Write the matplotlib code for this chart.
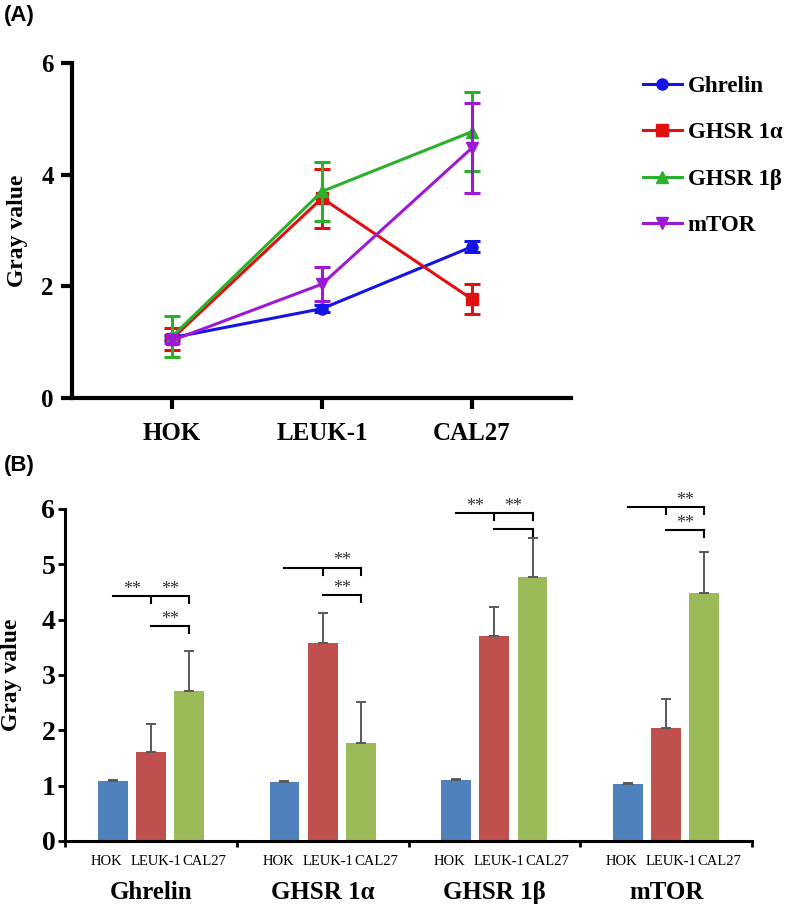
"""Gray value of ghrelin / GHSR / mTOR across HOK, LEUK-1 and CAL27 cells.

(A) line plot of the means, (B) grouped bars with significance brackets.
"""

import matplotlib

matplotlib.use("Agg")
import matplotlib.pyplot as plt  # noqa: E402

# ---- data ----
cells = ["HOK", "LEUK-1", "CAL27"]
genes = ["Ghrelin", "GHSR 1α", "GHSR 1β", "mTOR"]

ghrelin = [1.08, 1.60, 2.71]
ghsr1a = [1.06, 3.58, 1.77]
ghsr1b = [1.10, 3.70, 4.77]
mtor = [1.03, 2.04, 4.48]

# panel A error bars (symmetric)
err_a_ghrelin = [0.04, 0.06, 0.10]
err_a_ghsr1a = [0.20, 0.53, 0.27]
err_a_ghsr1b = [0.37, 0.53, 0.71]
err_a_mtor = [0.05, 0.31, 0.80]

# panel B error bars (upper only)
err_b_ghrelin = [0.02, 0.52, 0.73]
err_b_ghsr1a = [0.02, 0.54, 0.74]
err_b_ghsr1b = [0.02, 0.53, 0.71]
err_b_mtor = [0.02, 0.53, 0.75]

# significance brackets: (gene index, height, first bar, star slots between bars)
brackets = [
    (0, 4.43, 0, [0.5, 1.5]),
    (0, 3.89, 1, [1.5]),
    (1, 4.94, 0, [1.5]),
    (1, 4.45, 1, [1.5]),
    (2, 5.93, 0, [0.5, 1.5]),
    (2, 5.64, 1, []),
    (3, 6.04, 0, [1.5]),
    (3, 5.62, 1, [1.5]),
]

LINE_COLORS = ["#1414e6", "#e01010", "#2bb02b", "#9c1ad6"]
MARKERS = ["o", "s", "^", "v"]
BAR_COLORS = ["#4f81bd", "#c0504d", "#9bbb59"]
SERIF = "Liberation Serif"
SANS = "Liberation Sans"

W, H = 787, 907
fig = plt.figure(figsize=(W / 100, H / 100), dpi=100)
fig.patch.set_facecolor("white")

# ---------------- (A) ----------------
ax = fig.add_axes([72 / W, 1 - 398 / H, (571 - 72) / W, (398 - 63) / H])
means = [ghrelin, ghsr1a, ghsr1b, mtor]
errs_a = [err_a_ghrelin, err_a_ghsr1a, err_a_ghsr1b, err_a_mtor]
xs = list(range(len(cells)))
handles = []
for i, gene in enumerate(genes):
    c = ax.errorbar(xs, means[i], yerr=errs_a[i], color=LINE_COLORS[i], lw=2.2,
                    marker=MARKERS[i], ms=8, capsize=6, capthick=2.2,
                    elinewidth=2.2, label=gene, zorder=3 + i)
    handles.append(c.lines[0])
ax.set_xlim(-0.667, 2.66)
ax.set_ylim(0, 6)
ax.set_yticks([0, 2, 4, 6])
ax.set_xticks(xs)
ax.set_xticklabels(cells)
for s in ("top", "right"):
    ax.spines[s].set_visible(False)
for s in ("left", "bottom"):
    ax.spines[s].set_linewidth(3)
ax.tick_params(axis="both", width=3, length=8, pad=5)
ax.tick_params(axis="x", pad=9)
for lab in ax.get_xticklabels() + ax.get_yticklabels():
    lab.set_fontfamily(SERIF)
    lab.set_fontweight("bold")
    lab.set_fontsize(18)
ax.set_ylabel("Gray value", family=SERIF, weight="bold", fontsize=17)
ax.yaxis.set_label_coords(-0.088, 0.5)

fig.legend(handles, genes, loc="upper left", bbox_to_anchor=(643 / W, 1 - 76 / H),
           frameon=False, borderpad=0, borderaxespad=0, handlelength=1.7,
           handletextpad=0.25, labelspacing=1.1,
           prop={"family": SERIF, "weight": "bold", "size": 16.5})

fig.text(4 / W, 1 - 15 / H, "(A)", family=SANS, weight="bold", fontsize=16,
         va="center", ha="left")
fig.text(4 / W, 1 - 466 / H, "(B)", family=SANS, weight="bold", fontsize=16,
         va="center", ha="left")

# ---------------- (B) ----------------
bx = fig.add_axes([65 / W, 1 - 841 / H, (752 - 65) / W, (841 - 509) / H])
errs_b = [err_b_ghrelin, err_b_ghsr1a, err_b_ghsr1b, err_b_mtor]
step, width = 0.222, 0.174


def bar_x(g, k):
    return g + 0.5 + (k - 1) * step


for g in range(len(genes)):
    for k in range(len(cells)):
        bx.bar(bar_x(g, k), means[g][k], width=width, color=BAR_COLORS[k],
               yerr=[[0], [errs_b[g][k]]], capsize=3.6,
               error_kw={"ecolor": "#595959", "elinewidth": 1.4, "capthick": 1.4},
               zorder=2)

bx.set_xlim(0, 4)
bx.set_ylim(0, 6)
bx.set_yticks(range(7))
bx.set_xticks(range(5))
bx.set_xticklabels([])
label_off = [-0.26, 0.03, 0.31]
bx.set_xticks([g + 0.5 + o for g in range(len(genes)) for o in label_off], minor=True)
bx.set_xticklabels(cells * len(genes), minor=True, family=SERIF, fontsize=10.5)
bx.tick_params(axis="x", which="minor", length=0, pad=10)
bx.tick_params(axis="x", which="major", length=4, width=2)
bx.tick_params(axis="y", length=5, width=2, pad=2)
for lab in bx.get_yticklabels():
    lab.set_fontfamily(SERIF)
    lab.set_fontweight("bold")
    lab.set_fontsize(20)
for s in ("top", "right"):
    bx.spines[s].set_visible(False)
for s in ("left", "bottom"):
    bx.spines[s].set_linewidth(2.2)
bx.set_ylabel("Gray value", family=SERIF, weight="bold", fontsize=17)
bx.yaxis.set_label_coords(-0.062, 0.5)

for g, gene in enumerate(genes):
    bx.text(g + 0.5, -0.155, gene, transform=bx.get_xaxis_transform(),
            ha="center", va="center", family=SERIF, weight="bold", fontsize=18)

tick_depth = 0.13
for g, y, first, stars in brackets:
    x0, x1 = bar_x(g, first), bar_x(g, 2)
    bx.plot([x0, x1], [y, y], color="black", lw=1.5, clip_on=False, zorder=4)
    for k in range(first + 1, 3):
        bx.plot([bar_x(g, k)] * 2, [y, y - tick_depth], color="black", lw=1.5,
                clip_on=False, zorder=4)
    for slot in stars:
        bx.text(g + 0.5 + (slot - 1) * step, y + 0.04, "**", ha="center",
                va="baseline", family=SERIF, fontsize=13, color="#333333")

fig.savefig("out.png", dpi=100)
